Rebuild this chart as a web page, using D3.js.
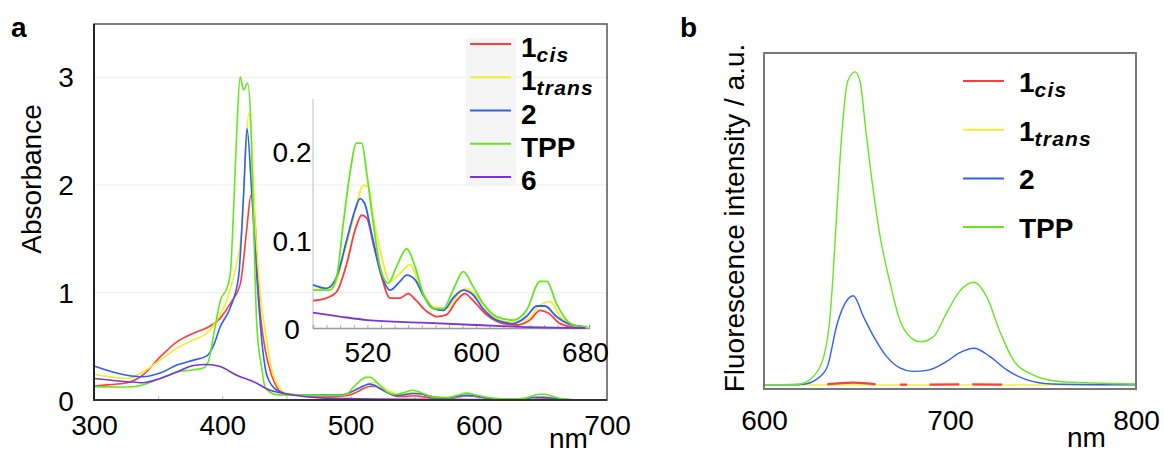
<!DOCTYPE html>
<html>
<head>
<meta charset="utf-8">
<script src="https://cdn.jsdelivr.net/npm/d3@7"></script>
<style>
  body { margin: 0; background: #fff; }
  text { font-family: "Liberation Sans", Arial, sans-serif; }
</style>
</head>
<body>
<svg id="fig" width="1164" height="454"></svg>
<script>
// ---- panel a : absorbance, [nm, A]
var absCis = [[300,0.13],[310,0.14],[326,0.16],[338,0.23],[351.6,0.40],[364.6,0.54],[377.6,0.62],[388,0.67],[398.4,0.76],[406.5,0.90],[414.3,1.09],[416.6,1.30],[419.3,1.61],[422.4,1.90],[424,1.86],[425.8,1.61],[428.4,0.99],[433.6,0.46],[438.8,0.22],[446.6,0.07],[460,0.045],[470,0.035],[480,0.031],[490,0.034],[497.4,0.041],[504.8,0.073],[510.9,0.111],[515.8,0.128],[519.5,0.125],[524.3,0.096],[530.5,0.058],[536.6,0.034],[544,0.034],[550,0.039],[556,0.031],[563.5,0.019],[571,0.013],[578,0.015],[585.6,0.031],[591.8,0.039],[597.8,0.031],[607.7,0.015],[620,0.005],[630,0.0034],[639.5,0.009],[647,0.02],[653,0.017],[661.8,0.005],[671.6,0.001],[681,0]];
var absTrans = [[300,0.24],[326,0.20],[338,0.26],[351.6,0.37],[364.6,0.48],[377.6,0.56],[388,0.62],[395.8,0.74],[403.6,0.93],[408.8,1.14],[415.4,1.61],[418,2.23],[420.6,2.66],[423,2.39],[425.8,1.61],[429.7,0.99],[435,0.53],[440,0.22],[450.5,0.06],[465,0.045],[480,0.043],[495,0.047],[502.3,0.081],[510,0.126],[517,0.162],[520.7,0.16],[524.3,0.126],[530.5,0.081],[536.6,0.053],[544,0.062],[551.4,0.072],[558.7,0.047],[568.5,0.024],[578.3,0.022],[585.6,0.036],[593,0.045],[600.4,0.036],[610.2,0.017],[622.5,0.007],[637,0.009],[647,0.026],[654.4,0.03],[661.8,0.013],[671.6,0.004],[681,0.001]];
var abs2 = [[300,0.316],[325.5,0.23],[338,0.216],[351.6,0.25],[364.6,0.325],[377.6,0.37],[388,0.41],[393,0.50],[398.4,0.68],[406,0.85],[412.7,1.14],[416.7,1.92],[419.3,2.52],[423,1.92],[427,1.14],[431,0.53],[435,0.22],[442.7,0.09],[455.6,0.046],[470,0.045],[480,0.049],[490,0.045],[497.4,0.058],[504.8,0.10],[510.9,0.134],[514.6,0.147],[518.3,0.14],[523,0.108],[529.3,0.066],[536.6,0.043],[544,0.053],[548.9,0.06],[555,0.055],[561,0.0375],[568.5,0.022],[576,0.02],[583,0.034],[590.5,0.043],[597.8,0.0375],[605,0.022],[615,0.009],[627,0.005],[637,0.013],[644.6,0.025],[650.6,0.025],[659,0.013],[669,0.004],[681,0.001]];
var absTPP = [[300,0.124],[326,0.12],[338,0.14],[351.6,0.20],[364.6,0.26],[377.6,0.28],[385.6,0.30],[389.5,0.37],[393.5,0.62],[398.7,0.93],[404,1.05],[406.5,1.20],[408.8,1.76],[411.5,2.54],[414,3.0],[416.6,2.88],[419.8,2.94],[422.4,2.54],[424.5,1.61],[427,0.68],[431,0.28],[433.6,0.11],[442.7,0.05],[460,0.045],[480,0.043],[492.5,0.043],[497.4,0.058],[502.3,0.119],[507.2,0.176],[512,0.21],[515.8,0.21],[519.5,0.176],[524.3,0.119],[529.3,0.07],[535.4,0.051],[541.5,0.07],[548.9,0.09],[555,0.07],[561,0.039],[568.5,0.022],[575.8,0.022],[583,0.043],[590.5,0.064],[597.8,0.047],[605,0.028],[615,0.013],[627,0.009],[637,0.02],[647,0.053],[652,0.053],[659,0.028],[666.5,0.009],[674,0.002],[682,0.001]];
var abs6 = [[300,0.20],[326,0.17],[338,0.16],[351.6,0.20],[364.6,0.26],[377.6,0.32],[388,0.33],[398.4,0.31],[411.3,0.23],[424.4,0.17],[437.4,0.09],[450.4,0.056],[465,0.03],[480,0.0174],[500,0.013],[520,0.009],[560,0.006],[600,0.0034],[640,0.001],[680,0],[700,0]];

// ---- panel b : fluorescence (a.u.)
var flCis = [[634,0.5],[640,0.8],[648,1.0],[655,0.8],[660,0.5],[662,null],[673,0.4],[677,0.4],[679,null],[689,0.4],[705,0.5],[708,null],[712,0.5],[728,0.4]];
var flTrans = [[600,0.3],[700,0.3],[800,0.3]];
var fl2 = [[600,0.3],[615,0.3],[621,0.5],[628,2],[634,6],[639,19],[642.5,25],[648,28.7],[653.5,22],[659,15.7],[666,9.3],[673,5.7],[680,4.6],[689,5.1],[698,7.7],[705,10.5],[713,12],[721.5,9.3],[730.5,5.1],[741,2],[755,0.6],[800,0.3]];
var flTPP = [[600,0.4],[610,0.4],[618,0.5],[624.7,2],[630,6],[632,9],[635.5,22],[637,34],[639,54],[641.8,80],[645,97],[649,100],[651.6,97],[655,80],[658.8,62],[662,49],[667.7,33],[673,21],[678.5,15.6],[684,14],[691,15.6],[698,23],[705,30],[713,33],[719.7,28.4],[727,17],[734,8.3],[744.6,3.5],[759,1.4],[777,0.9],[800,0.6]];

var xTicksA = [300,400,500,600,700];
var yTicksA = [0,1,2,3];
var xTicksInset = [520,600,680];
var yTicksInset = [0,0.1,0.2];
var xTicksB = [600,700,800];

var colors = {cis:"#ff3b3b", trans:"#eeee33", two:"#3060f0", tpp:"#66e622", six:"#7a35d8"};

var svg = d3.select("#fig");
var FS = 28;

// ===== panel a =====
var xA = d3.scaleLinear().domain([300,700]).range([94,607]);
var yA = d3.scaleLinear().domain([0,3.49]).range([400,24]);

// gridlines
svg.append("g")
    .attr("transform","translate(94,0)")
    .call(d3.axisLeft(yA).tickValues([1,2,3]).tickSize(-513).tickFormat(""))
    .call(function(g){
        g.select(".domain").remove();
        g.selectAll("line").attr("stroke","#ececec").attr("stroke-width",1);
    });

// minor ticks bottom
svg.append("g")
    .attr("transform","translate(0,400)")
    .call(d3.axisTop(xA).tickValues([350,400,450,500,550,600,650]).tickSize(4).tickFormat(""))
    .call(function(g){
        g.select(".domain").remove();
        g.selectAll("line").attr("stroke","#bbb");
    });

var lineA = d3.line()
    .curve(d3.curveMonotoneX)
    .x(function(d){return xA(d[0]);})
    .y(function(d){return yA(d[1]);});

var seriesA = [
    {data:absCis, color:colors.cis},
    {data:absTrans, color:colors.trans},
    {data:abs2, color:colors.two},
    {data:absTPP, color:colors.tpp},
    {data:abs6, color:colors.six}
];
svg.append("g").selectAll("path")
    .data(seriesA)
    .enter().append("path")
    .attr("d",function(d){return lineA(d.data);})
    .attr("fill","none")
    .attr("stroke",function(d){return d.color;})
    .attr("stroke-width",1.6);

// frame
svg.append("rect").attr("x",94).attr("y",24).attr("width",513).attr("height",376)
    .attr("fill","none").attr("stroke","#555").attr("stroke-width",1.5);
svg.append("line").attr("x1",94).attr("x2",94).attr("y1",24).attr("y2",401)
    .attr("stroke","#222").attr("stroke-width",2);
svg.append("line").attr("x1",93).attr("x2",607).attr("y1",400).attr("y2",400)
    .attr("stroke","#333").attr("stroke-width",2);

// axis labels
svg.append("g")
    .attr("transform","translate(0,400)")
    .call(d3.axisBottom(xA).tickValues(xTicksA).tickSize(0).tickFormat(d3.format("d")))
    .call(function(g){
        g.select(".domain").remove();
        g.selectAll("text").attr("y",35).attr("dy",0)
            .attr("font-size",FS).attr("fill","#000")
            .attr("font-family","Liberation Sans, Arial, sans-serif");
    });
svg.append("g")
    .attr("transform","translate(94,0)")
    .call(d3.axisLeft(yA).tickValues(yTicksA).tickSize(0).tickFormat(d3.format("d")))
    .call(function(g){
        g.select(".domain").remove();
        g.selectAll("text").attr("x",-28).attr("dy","0.36em").attr("text-anchor","middle")
            .attr("font-size",FS).attr("fill","#000")
            .attr("font-family","Liberation Sans, Arial, sans-serif");
    });

svg.append("text").attr("x",549).attr("y",448).attr("font-size",FS).text("nm");
svg.append("text").attr("transform","translate(41,179) rotate(-90)")
    .attr("text-anchor","middle").attr("font-size",FS).text("Absorbance");
svg.append("text").attr("x",11).attr("y",37).attr("font-size",28)
    .attr("font-weight","bold").text("a");

// ===== inset =====
var xI = d3.scaleLinear().domain([480,683]).range([313,589]);
var yI = d3.scaleLinear().domain([0,0.26]).range([328,99]);

svg.append("line").attr("x1",313).attr("x2",313).attr("y1",99).attr("y2",328)
    .attr("stroke","#d4d4d4").attr("stroke-width",1.5);
svg.append("g")
    .attr("transform","translate(0,328)")
    .call(d3.axisTop(xI).ticks(20).tickSize(3).tickFormat(""))
    .call(function(g){
        g.select(".domain").attr("stroke","#999").attr("stroke-width",1.5);
        g.selectAll("line").attr("stroke","#aaa");
    });

var lineI = d3.line()
    .curve(d3.curveMonotoneX)
    .x(function(d){return xI(d[0]);})
    .y(function(d){return yI(d[1]);});
svg.append("g").selectAll("path")
    .data(seriesA)
    .enter().append("path")
    .attr("d",function(d){
        return lineI(d.data.filter(function(p){return p[0]>=480 && p[0]<=683;}));
    })
    .attr("fill","none")
    .attr("stroke",function(d){return d.color;})
    .attr("stroke-width",1.8);

svg.append("g")
    .attr("transform","translate(0,328)")
    .call(d3.axisBottom(xI).tickValues(xTicksInset).tickSize(0).tickFormat(d3.format("d")))
    .call(function(g){
        g.select(".domain").remove();
        g.selectAll("text").attr("y",34).attr("dy",0)
            .attr("font-size",FS).attr("fill","#000")
            .attr("font-family","Liberation Sans, Arial, sans-serif");
    });
svg.append("g")
    .attr("transform","translate(313,0)")
    .call(d3.axisLeft(yI).tickValues(yTicksInset).tickSize(0)
        .tickFormat(function(d){return d===0 ? "0" : d3.format(".1f")(d);}))
    .call(function(g){
        g.select(".domain").remove();
        g.selectAll("text").attr("x",-21).attr("dy","0.36em").attr("text-anchor","middle")
            .attr("font-size",FS).attr("fill","#000")
            .attr("font-family","Liberation Sans, Arial, sans-serif");
    });

// legend a
var legA = [
    {main:"1", sub:"cis", color:colors.cis},
    {main:"1", sub:"trans", color:colors.trans},
    {main:"2", sub:"", color:colors.two},
    {main:"TPP", sub:"", color:colors.tpp},
    {main:"6", sub:"", color:colors.six}
];
svg.append("rect").attr("x",466).attr("y",38).attr("width",50).attr("height",147).attr("fill","#f5f5f5");
var la = svg.append("g").selectAll("g")
    .data(legA).enter().append("g")
    .attr("transform",function(d,i){return "translate(0,"+(44+i*33.25)+")";});
la.append("line").attr("x1",470).attr("x2",511)
    .attr("stroke",function(d){return d.color;}).attr("stroke-width",2);
var ta = la.append("text").attr("x",521).attr("y",13)
    .attr("font-size",FS).attr("font-weight","bold");
ta.append("tspan").text(function(d){return d.main;});
ta.append("tspan").attr("dy",5).attr("font-size",21).attr("font-style","italic")
    .attr("letter-spacing",1.2).text(function(d){return d.sub;});

// ===== panel b =====
var xB = d3.scaleLinear().domain([600,800]).range([764,1136]);
var yB = d3.scaleLinear().domain([-1,106]).range([389,53]);

var lineB = d3.line()
    .defined(function(d){return d[1]!==null;})
    .curve(d3.curveMonotoneX)
    .x(function(d){return xB(d[0]);})
    .y(function(d){return yB(d[1]);});

var seriesB = [
    {data:flTrans, color:colors.trans},
    {data:flCis, color:colors.cis},
    {data:fl2, color:colors.two},
    {data:flTPP, color:colors.tpp}
];
svg.append("g").selectAll("path")
    .data(seriesB)
    .enter().append("path")
    .attr("d",function(d){return lineB(d.data);})
    .attr("fill","none")
    .attr("stroke",function(d){return d.color;})
    .attr("stroke-width",function(d,i){return i==1 ? 2.2 : 1.4;});

svg.append("rect").attr("x",764).attr("y",53).attr("width",372).attr("height",336)
    .attr("fill","none").attr("stroke","#777").attr("stroke-width",2);

svg.append("g")
    .attr("transform","translate(0,389)")
    .call(d3.axisBottom(xB).tickValues(xTicksB).tickSize(0).tickFormat(d3.format("d")))
    .call(function(g){
        g.select(".domain").remove();
        g.selectAll("text").attr("y",41).attr("dy",0)
            .attr("font-size",FS).attr("fill","#000")
            .attr("font-family","Liberation Sans, Arial, sans-serif");
    });
svg.append("text").attr("x",1067).attr("y",447).attr("font-size",FS).text("nm");
svg.append("text").attr("transform","translate(744,218) rotate(-90)")
    .attr("text-anchor","middle").attr("font-size",FS).text("Fluorescence intensity / a.u.");
svg.append("text").attr("x",680).attr("y",37).attr("font-size",28)
    .attr("font-weight","bold").text("b");

// legend b
var legB = legA.slice(0,4);
var lb = svg.append("g").selectAll("g")
    .data(legB).enter().append("g")
    .attr("transform",function(d,i){return "translate(0,"+(81+i*48.7)+")";});
lb.append("line").attr("x1",963).attr("x2",1004)
    .attr("stroke",function(d){return d.color;}).attr("stroke-width",2);
var tb = lb.append("text").attr("x",1019).attr("y",11)
    .attr("font-size",FS).attr("font-weight","bold");
tb.append("tspan").text(function(d){return d.main;});
tb.append("tspan").attr("dy",5).attr("font-size",21).attr("font-style","italic")
    .attr("letter-spacing",1.2).text(function(d){return d.sub;});
</script>
</body>
</html>
